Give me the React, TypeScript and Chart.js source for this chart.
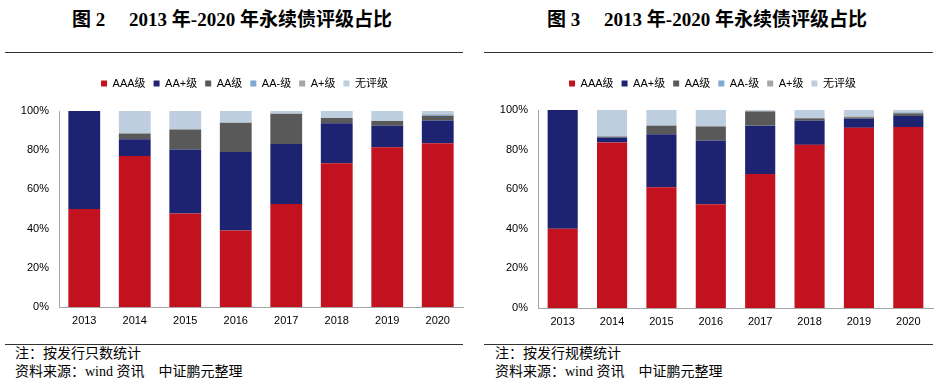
import React, { useEffect, useRef } from "react";
import { Chart, registerables } from "chart.js";

Chart.register(...registerables);

const years = ["2013", "2014", "2015", "2016", "2017", "2018", "2019", "2020"];
const ratingLabels = ["AAA级", "AA+级", "AA级", "AA-级", "A+级", "无评级"];
const ratingColors = ["#C3121F", "#1E2371", "#595959", "#7DA9D3", "#A6A6A6", "#BDCFDE"];
const yTicks = [0, 20, 40, 60, 80, 100];

// 图2：按发行只数统计 (%)
const aaaCount = [50.0, 77.1, 47.7, 39.0, 52.5, 73.3, 81.5, 83.6];
const aaPlusCount = [50.0, 8.5, 32.6, 40.1, 30.6, 20.4, 11.0, 11.6];
const aaCount = [0, 2.9, 10.3, 14.9, 15.5, 2.7, 2.4, 2.2];
const aaMinusCount = [0, 0, 0, 0, 0, 0, 0, 0.5];
const aPlusCount = [0, 0, 0, 0, 0, 0, 0, 0.4];
const unratedCount = [0, 11.5, 9.4, 6.0, 1.4, 3.6, 5.1, 1.7];

// 图3：按发行规模统计 (%)
const aaaScale = [40.0, 83.6, 61.0, 52.4, 67.7, 82.4, 91.0, 91.4];
const aaPlusScale = [60.0, 2.5, 26.8, 32.2, 24.4, 12.2, 4.6, 5.6];
const aaScale = [0, 0.5, 4.3, 7.1, 7.2, 1.2, 0.7, 1.3];
const aaMinusScale = [0, 0, 0, 0, 0, 0, 0, 0.4];
const aPlusScale = [0, 0, 0, 0, 0, 0, 0.5, 0.3];
const unratedScale = [0, 13.4, 7.9, 8.3, 0.7, 4.2, 3.2, 1.0];

const countSeries = [aaaCount, aaPlusCount, aaCount, aaMinusCount, aPlusCount, unratedCount];
const scaleSeries = [aaaScale, aaPlusScale, aaScale, aaMinusScale, aPlusScale, unratedScale];

const tickFont = "'Liberation Sans', Arial, 'Noto Sans CJK SC', sans-serif";

type Geo = {
  width: number;
  yWidth: number;
  xHeight: number;
  padTop: number;
  padRight: number;
  legendPad: number;
  legendExtra: number;
  legendShift: number;
  barPct: number;
};

function StackChart({ series, geo }: { series: number[][]; geo: Geo }) {
  const ref = useRef<HTMLCanvasElement | null>(null);
  useEffect(() => {
    if (!ref.current) return;
    const legendGap = {
      id: "legendGap",
      beforeInit(chart: any) {
        const origFit = chart.legend.fit;
        chart.legend.fit = function () {
          origFit.call(this);
          this.height += geo.legendExtra;
        };
      },
      afterLayout(chart: any) {
        chart.legend.left += geo.legendShift;
        chart.legend.right += geo.legendShift;
      },
    };
    const chart = new Chart(ref.current, {
      type: "bar",
      data: {
        labels: years,
        datasets: series.map((d, i) => ({
          label: ratingLabels[i],
          data: d,
          backgroundColor: ratingColors[i],
          borderWidth: 0,
          barPercentage: geo.barPct,
          categoryPercentage: 1,
        })),
      },
      plugins: [legendGap],
      options: {
        animation: false,
        responsive: false,
        maintainAspectRatio: false,
        layout: { padding: { top: geo.padTop, right: geo.padRight, left: 0, bottom: 0 } },
        plugins: {
          legend: {
            position: "top",
            labels: {
              boxWidth: 6,
              boxHeight: 6,
              padding: geo.legendPad,
              color: "#000",
              font: { size: 11, family: tickFont },
            },
          },
          tooltip: { enabled: false },
        },
        scales: {
          x: {
            stacked: true,
            grid: { display: false, drawTicks: false },
            border: { color: "#A6A6A6", width: 1 },
            ticks: { color: "#000", font: { size: 11, family: tickFont }, padding: 7 },
            afterFit: (s: any) => {
              s.height = geo.xHeight;
            },
          },
          y: {
            stacked: true,
            min: 0,
            max: 100,
            afterBuildTicks: (s: any) => {
              s.ticks = yTicks.map((v) => ({ value: v }));
            },
            grid: { display: false, drawTicks: false },
            border: { color: "#A6A6A6", width: 1 },
            ticks: {
              color: "#000",
              font: { size: 11, family: tickFont },
              padding: 10,
              callback: (v: any) => v + "%",
            },
            afterFit: (s: any) => {
              s.width = geo.yWidth;
            },
          },
        },
      },
    });
    return () => chart.destroy();
  }, []);
  return <canvas ref={ref} width={geo.width} height={270} style={{ display: "block" }} />;
}

const titleStyle: React.CSSProperties = {
  position: "absolute",
  top: 8,
  fontFamily: "'Liberation Serif', 'Noto Sans CJK SC', serif",
  fontWeight: "bold",
  fontSize: 19,
  color: "#000",
  whiteSpace: "pre",
  textAlign: "center",
  lineHeight: "24px",
};
const lineStyle: React.CSSProperties = { position: "absolute", height: 0, borderTop: "1.5px solid #333" };
const noteStyle: React.CSSProperties = {
  position: "absolute",
  fontFamily: "'Liberation Serif', 'Noto Sans CJK SC', serif",
  fontSize: 14,
  color: "#000",
  whiteSpace: "pre",
  lineHeight: "18px",
};

export default function App() {
  return (
    <div style={{ position: "fixed", left: 0, top: 0, width: 941, height: 384, background: "#fff", overflow: "hidden" }}>
      <div style={{ ...titleStyle, left: -3, width: 470 }}>{"图 2     2013 年-2020 年永续债评级占比"}</div>
      <div style={{ ...titleStyle, left: 467, width: 480 }}>{"图 3     2013 年-2020 年永续债评级占比"}</div>
      <div style={{ ...lineStyle, left: 5, top: 52, width: 458 }} />
      <div style={{ ...lineStyle, left: 484, top: 52, width: 449 }} />
      <div style={{ position: "absolute", left: 0, top: 60 }}>
        <StackChart
          series={countSeries}
          geo={{ width: 470, yWidth: 59, xHeight: 23, padTop: 10, padRight: 7, legendPad: 8, legendExtra: 12, legendShift: 13, barPct: 0.63 }}
        />
      </div>
      <div style={{ position: "absolute", left: 470, top: 60 }}>
        <StackChart
          series={scaleSeries}
          geo={{ width: 471, yWidth: 68, xHeight: 22, padTop: 10, padRight: 8, legendPad: 8, legendExtra: 11, legendShift: 11, barPct: 0.61 }}
        />
      </div>
      <div style={{ ...lineStyle, left: 5, top: 344, width: 458 }} />
      <div style={{ ...lineStyle, left: 484, top: 344, width: 449 }} />
      <div style={{ ...noteStyle, left: 15, top: 345 }}>{"注：按发行只数统计"}</div>
      <div style={{ ...noteStyle, left: 15, top: 363 }}>{"资料来源：wind 资讯    中证鹏元整理"}</div>
      <div style={{ ...noteStyle, left: 495, top: 345 }}>{"注：按发行规模统计"}</div>
      <div style={{ ...noteStyle, left: 495, top: 363 }}>{"资料来源：wind 资讯    中证鹏元整理"}</div>
    </div>
  );
}
